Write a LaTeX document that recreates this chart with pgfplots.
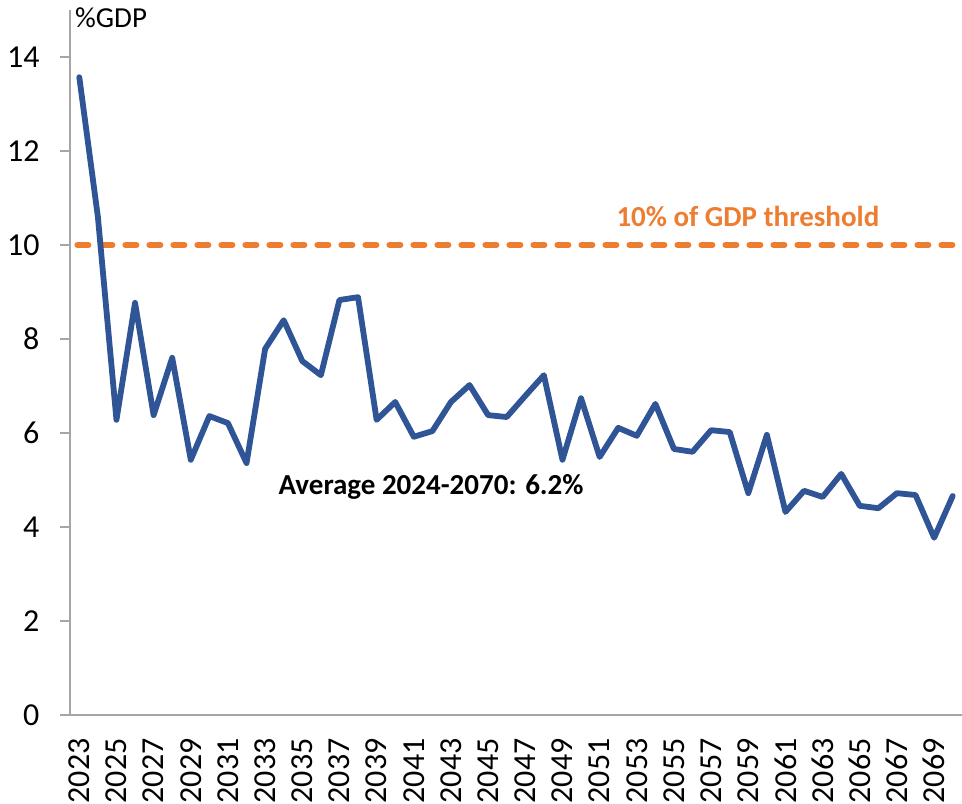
\documentclass[border=0pt]{standalone}
\usepackage{fontspec}
\setmainfont{Carlito}
\usepackage{pgfplots}
\pgfplotsset{compat=1.18}
\definecolor{lineblue}{HTML}{2F5597}
\definecolor{throrange}{HTML}{ED7D31}
\definecolor{axgray}{HTML}{A6A6A6}
\pgfplotstableread{
year val
2023 13.57
2024 10.60
2025 6.28
2026 8.77
2027 6.38
2028 7.60
2029 5.43
2030 6.36
2031 6.21
2032 5.36
2033 7.79
2034 8.40
2035 7.53
2036 7.23
2037 8.83
2038 8.89
2039 6.28
2040 6.66
2041 5.92
2042 6.04
2043 6.66
2044 7.02
2045 6.38
2046 6.34
2047 6.79
2048 7.23
2049 5.43
2050 6.74
2051 5.49
2052 6.11
2053 5.94
2054 6.62
2055 5.66
2056 5.60
2057 6.06
2058 6.02
2059 4.72
2060 5.96
2061 4.32
2062 4.77
2063 4.64
2064 5.13
2065 4.45
2066 4.40
2067 4.72
2068 4.68
2069 3.77
2070 4.66
}\gdpdata
\begin{document}
\begin{tikzpicture}
\begin{axis}[name=ax, at={(0,0)}, anchor=south west,
  scale only axis, width=892pt, height=705pt,
  xmin=2022.5, xmax=2070.5, ymin=0, ymax=15,
  axis x line=bottom, axis y line=left,
  axis line style={axgray, line width=1.3pt, -},
  xtick={2023,2025,...,2069},
  x tick style={draw=none},
  ytick={0,2,...,14},
  y tick style={axgray, line width=1.3pt},
  tick align=outside, major tick length=10pt,
  /pgf/number format/1000 sep={},
  /pgf/number format/assume math mode=true,
  tick label style={font=\fontsize{32}{38}\selectfont},
  x tick label style={rotate=90, anchor=east, xshift=-10pt},
  y tick label style={xshift=-17pt},
  clip=false,
]
\addplot[throrange, line width=6pt, line cap=round, dash pattern=on 11pt off 13pt] coordinates {(2022.9,10) (2070.5,10)};
\addplot[lineblue, line width=5.8pt, line join=round, line cap=round] table[x=year, y=val] {\gdpdata};
\node[throrange, font=\fontsize{29}{34}\selectfont\bfseries] at (axis cs:2058.98,10.6) {10\% of GDP threshold};
\node[black, font=\fontsize{29}{34}\selectfont\bfseries] at (axis cs:2041.93,4.85) {Average 2024-2070: 6.2\%};
\end{axis}
\node[anchor=west, font=\fontsize{29}{34}\selectfont, inner sep=0pt] at ([xshift=5pt, yshift=-8pt]ax.north west) {\%GDP};
\pgfresetboundingbox
\path[use as bounding box] ([xshift=-70pt, yshift=-88pt]ax.south west) rectangle ([yshift=10pt]ax.north east);
\end{tikzpicture}
\end{document}
